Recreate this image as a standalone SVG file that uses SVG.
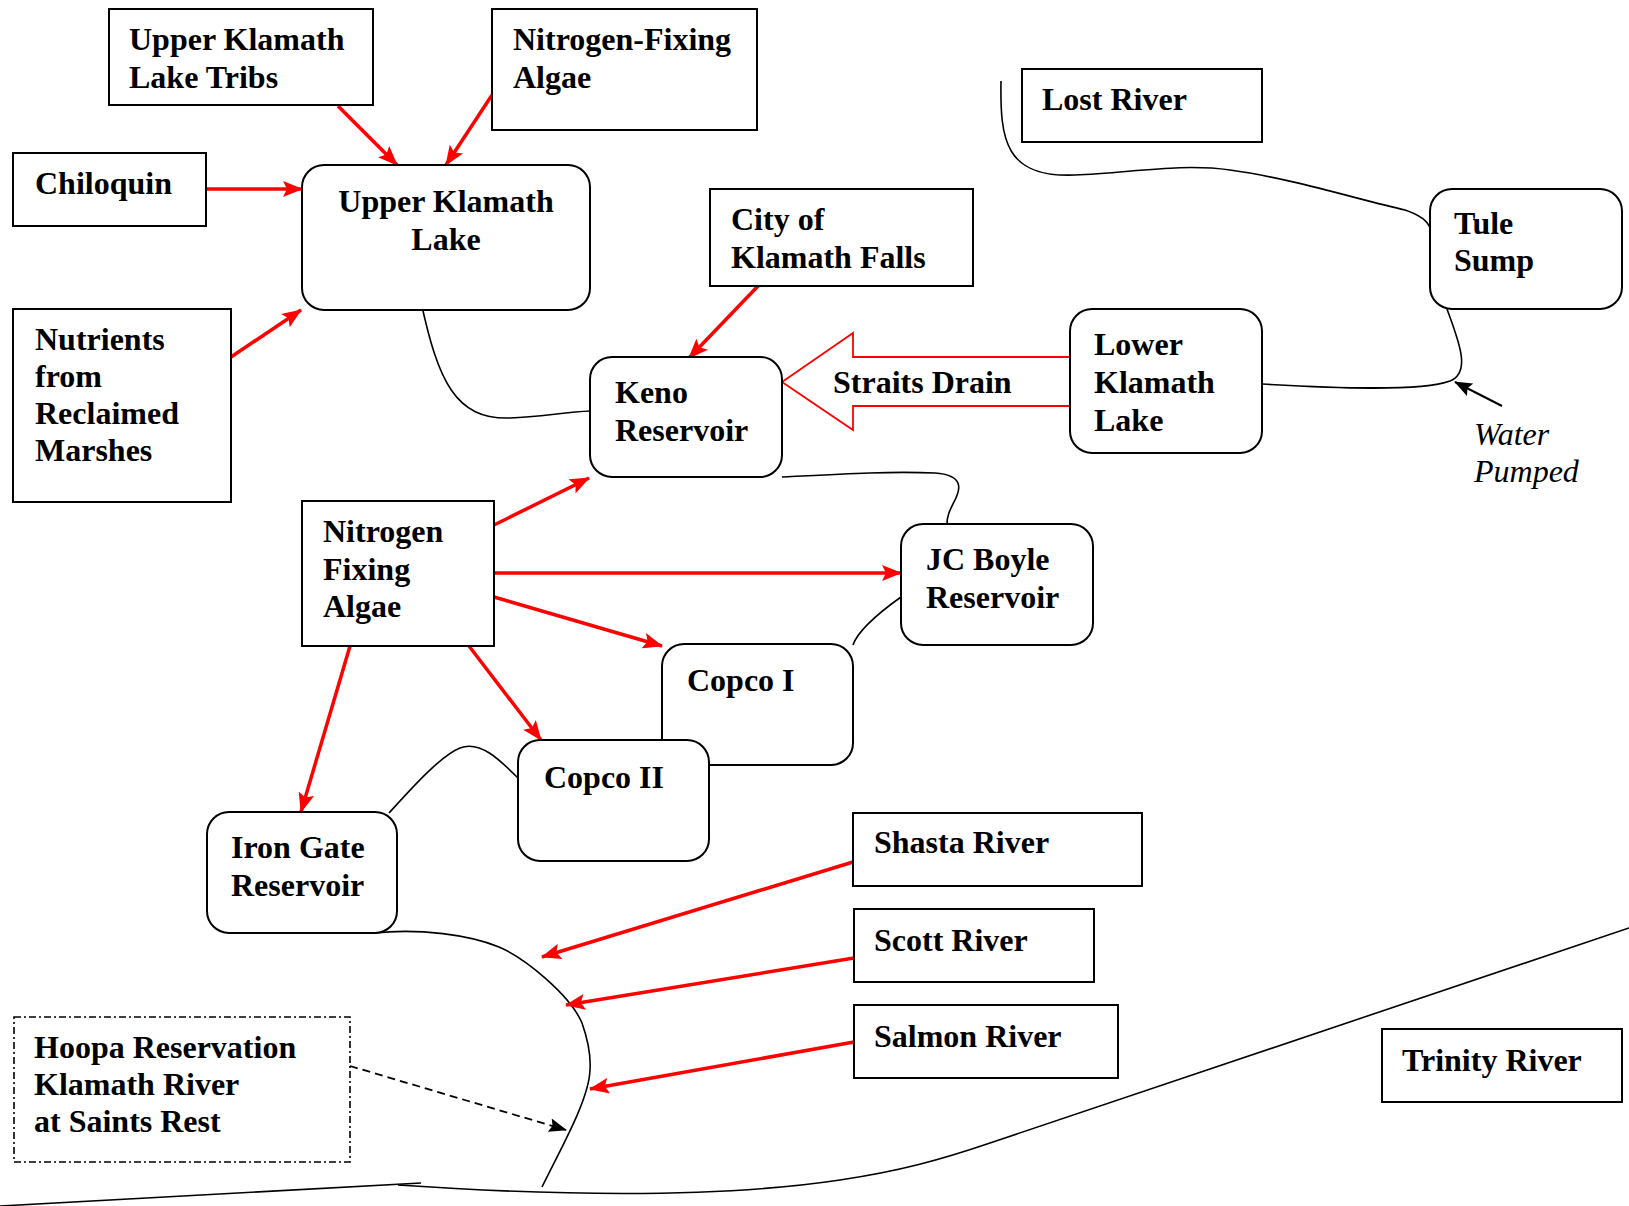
<svg xmlns="http://www.w3.org/2000/svg" width="1629" height="1206" viewBox="0 0 1629 1206">
<defs>
<style>
.box{fill:#fff;stroke:#000;stroke-width:2}
.dd{fill:#fff;stroke:#000;stroke-width:1.6;stroke-dasharray:7 3 2 3}
.t{font-family:"Liberation Serif","Times New Roman",serif;font-weight:bold;font-size:32px;fill:#000}
.it{font-family:"Liberation Serif","Times New Roman",serif;font-style:italic;font-size:32px;fill:#000}
.red{fill:none;stroke:#ff0000;stroke-width:3.5;marker-end:url(#ra)}
.blk{fill:none;stroke:#000;stroke-width:1.6}
</style>
<marker id="ra" markerUnits="userSpaceOnUse" markerWidth="20" markerHeight="16" viewBox="0 0 20 16" refX="19" refY="8" orient="auto">
<path d="M0,0 L20,8 L0,16 L4,8 Z" fill="#ff0000"/>
</marker>
<marker id="ba" markerUnits="userSpaceOnUse" markerWidth="18" markerHeight="14" viewBox="0 0 18 14" refX="17" refY="7" orient="auto">
<path d="M0,0 L18,7 L0,14 L3,7 Z" fill="#000"/>
</marker>
</defs>
<rect width="1629" height="1206" fill="#fff"/>

<g id="connectors">
<path class="blk" d="M421,302 C438,380 455,420 510,418 C540,417 565,412 590,411"/>
<path class="blk" d="M782,477 C840,474 890,471 935,473 C965,475 960,490 955,500 C950,510 947,515 947,524"/>
<path class="blk" d="M901,597 C880,612 858,630 853,645"/>
<path class="blk" d="M518,778 C500,760 480,740 460,748 C440,756 410,790 389,813"/>
<path class="blk" d="M374,933 C420,928 470,935 499,947 C525,958 570,995 582,1023 C588,1040 591,1055 590,1070 C589,1100 560,1150 542,1187"/>
<path class="blk" stroke-width="2" d="M0,1206 L421,1183"/>
<path class="blk" stroke-width="2" d="M398,1185 C560,1196 720,1198 840,1180 C900,1171 940,1160 990,1143 L1629,928"/>
<path class="blk" d="M1001,81 C1000,140 1005,178 1075,175 C1130,173 1180,163 1230,170 C1290,178 1360,200 1405,210 C1420,215 1428,222 1430,228"/>
<path class="blk" d="M1447,309 C1458,340 1472,372 1450,381 C1420,392 1330,388 1262,384"/>
<path fill="none" stroke="#000" stroke-width="2" marker-end="url(#ba)" d="M1502,406 L1455,382"/>
<path fill="none" stroke="#000" stroke-width="1.8" stroke-dasharray="8 5" marker-end="url(#ba)" d="M350,1066 L566,1130"/>
<path class="red" d="M338,106 L397,165"/>
<path class="red" d="M492,95 L446,165"/>
<path class="red" d="M206,189 L302,189"/>
<path class="red" d="M231,357 L301,310"/>
<path class="red" d="M758,286 L689,358"/>
<path class="red" d="M494,525 L589,478"/>
<path class="red" d="M494,573 L901,573"/>
<path class="red" d="M494,597 L662,646"/>
<path class="red" d="M469,646 L541,740"/>
<path class="red" d="M350,646 L301,812"/>
<path class="red" d="M853,862 L542,957"/>
<path class="red" d="M854,958 L566,1005"/>
<path class="red" d="M854,1042 L590,1089"/>
</g>

<g id="straits-drain">
<polygon points="782,382 853,333 853,357 1070,357 1070,406 853,406 853,430" fill="#fff" stroke="#ff0000" stroke-width="1.8"/>
<text class="t" x="833" y="393">Straits Drain</text>
</g>

<g id="tribs"><rect class="box" x="109" y="9" width="264" height="96"/>
<text class="t" x="129" y="50">Upper Klamath</text><text class="t" x="129" y="88">Lake Tribs</text></g>

<g id="nfa-top"><rect class="box" x="492" y="9" width="265" height="121"/>
<text class="t" x="513" y="50">Nitrogen-Fixing</text><text class="t" x="513" y="88">Algae</text></g>

<g id="chiloquin"><rect class="box" x="13" y="153" width="193" height="73"/>
<text class="t" x="35" y="194">Chiloquin</text></g>

<g id="ukl"><rect class="box" x="302" y="165" width="288" height="145" rx="22"/>
<text class="t" x="446" y="212" text-anchor="middle">Upper Klamath</text><text class="t" x="446" y="250" text-anchor="middle">Lake</text></g>

<g id="nutrients"><rect class="box" x="13" y="309" width="218" height="193"/>
<text class="t" x="35" y="350">Nutrients</text><text class="t" x="35" y="387">from</text><text class="t" x="35" y="424">Reclaimed</text><text class="t" x="35" y="461">Marshes</text></g>

<g id="city"><rect class="box" x="710" y="189" width="263" height="97"/>
<text class="t" x="731" y="230">City of</text><text class="t" x="731" y="268">Klamath Falls</text></g>

<g id="keno"><rect class="box" x="590" y="357" width="192" height="120" rx="22"/>
<text class="t" x="615" y="403">Keno</text><text class="t" x="615" y="441">Reservoir</text></g>

<g id="lost-river"><rect class="box" x="1022" y="69" width="240" height="73"/>
<text class="t" x="1042" y="110">Lost River</text></g>

<g id="tule-sump"><rect class="box" x="1430" y="189" width="192" height="120" rx="22"/>
<text class="t" x="1454" y="234">Tule</text><text class="t" x="1454" y="271">Sump</text></g>

<g id="lower-klamath"><rect class="box" x="1070" y="309" width="192" height="144" rx="22"/>
<text class="t" x="1094" y="355">Lower</text><text class="t" x="1094" y="393">Klamath</text><text class="t" x="1094" y="431">Lake</text></g>

<g id="water-pumped">
<text class="it" x="1474" y="445">Water</text><text class="it" x="1474" y="482">Pumped</text></g>

<g id="nfa-mid"><rect class="box" x="302" y="501" width="192" height="145"/>
<text class="t" x="323" y="542">Nitrogen</text><text class="t" x="323" y="580">Fixing</text><text class="t" x="323" y="617">Algae</text></g>

<g id="jc-boyle"><rect class="box" x="901" y="524" width="192" height="121" rx="22"/>
<text class="t" x="926" y="570">JC Boyle</text><text class="t" x="926" y="608">Reservoir</text></g>

<g id="copco1"><rect class="box" x="662" y="644" width="191" height="121" rx="22"/>
<text class="t" x="687" y="691">Copco I</text></g>

<g id="copco2"><rect class="box" x="518" y="740" width="191" height="121" rx="22"/>
<text class="t" x="544" y="788">Copco II</text></g>

<g id="iron-gate"><rect class="box" x="207" y="812" width="190" height="121" rx="22"/>
<text class="t" x="231" y="858">Iron Gate</text><text class="t" x="231" y="896">Reservoir</text></g>

<g id="shasta"><rect class="box" x="853" y="813" width="289" height="73"/>
<text class="t" x="874" y="853">Shasta River</text></g>

<g id="scott"><rect class="box" x="854" y="909" width="240" height="73"/>
<text class="t" x="874" y="951">Scott River</text></g>

<g id="salmon"><rect class="box" x="854" y="1005" width="264" height="73"/>
<text class="t" x="874" y="1047">Salmon River</text></g>

<g id="trinity"><rect class="box" x="1382" y="1029" width="240" height="73"/>
<text class="t" x="1402" y="1071">Trinity River</text></g>

<g id="hoopa"><rect class="dd" x="14" y="1017" width="336" height="145"/>
<text class="t" x="34" y="1058">Hoopa Reservation</text><text class="t" x="34" y="1095">Klamath River</text><text class="t" x="34" y="1132">at Saints Rest</text></g>
</svg>
